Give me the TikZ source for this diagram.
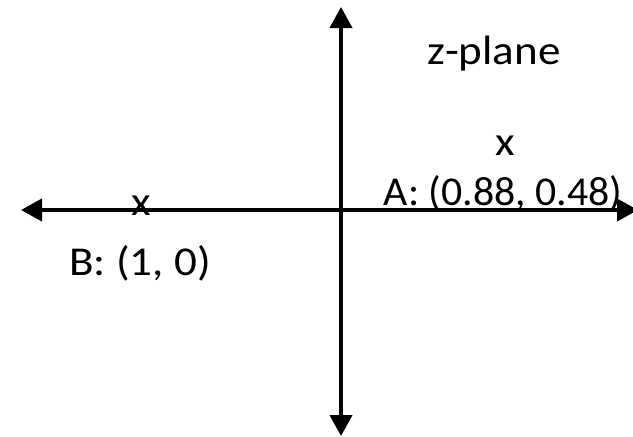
\documentclass[tikz,border=0pt]{standalone}
\usepackage{fontspec}
\setmainfont{Carlito}
\usepackage{tikz}
\usetikzlibrary{arrows.meta,positioning}

\newcommand{\widetext}[1]{\scalebox{1.1}[1]{#1}}

\begin{document}
\begin{tikzpicture}[
  x=0.5pt,y=-0.5pt,
  font=\fontsize{20.5}{24}\selectfont,
  axis/.style={line width=2pt,{Triangle[length=10.5pt,width=11pt]}-{Triangle[length=10.5pt,width=11pt]}},
  pointx/.style={inner sep=0pt,anchor=center},
  lbl/.style={inner sep=0pt,anchor=base},
]
\useasboundingbox (0,0) rectangle (633,436);
% axes
\coordinate (west) at (21,210);
\coordinate (east) at (638,210);
\coordinate (north) at (341,7);
\coordinate (south) at (341,436);
\draw[axis] (west) -- (east);
\draw[axis] (south) -- (north);
% plane name
\node[lbl] (plane) at (494,64) {\widetext{z-plane}};
% points
\node[pointx] (ptA) at (505,146) {\widetext{x}};
\node[lbl] (labA) at (503,205) {\scalebox{1.02}[1]{A: (0.88, 0.48)}};
\node[pointx] (ptB) at (141,206) {\widetext{x}};
\node[lbl] (labB) at (140,275) {\widetext{B: (1, 0)}};
\end{tikzpicture}
\end{document}
